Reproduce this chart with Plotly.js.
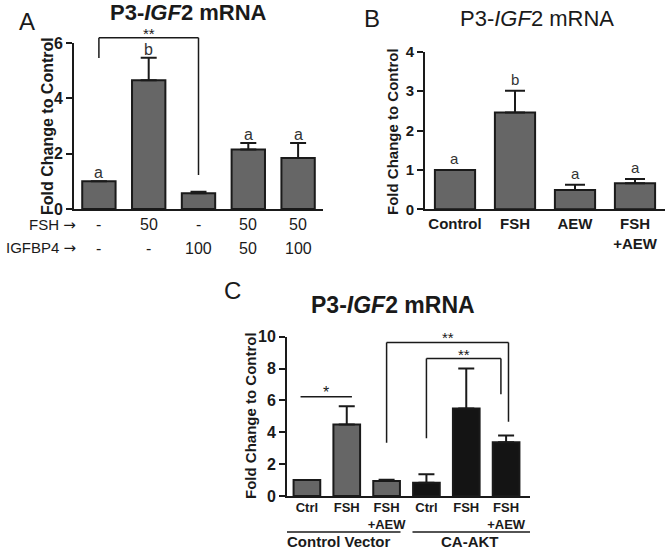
<!DOCTYPE html>
<html>
<head>
    <title>P3-IGF2 mRNA</title>
    <script src="https://cdn.plot.ly/plotly-3.0.1.min.js"></script>
    <style>
        body { margin: 0; background-color: white; }
        #chart { width: 667px; height: 552px; }
    </style>
</head>
<body>
    <div id="chart"></div>
    <script>
        // Panel A: FSH / IGFBP4 treatments
        const aFsh = ['-', '50', '-', '50', '50'];
        const aIgfbp4 = ['-', '-', '100', '50', '100'];
        const aMean = [1.0, 4.65, 0.57, 2.15, 1.84];
        const aErr = [0, 0.82, 0.05, 0.24, 0.55];
        const aLetters = ['a', 'b', '', 'a', 'a'];
        // bracket: [xLeft, xRight, yLeftEnd, yTop, yRightEnd, label]
        const aBracket = [0, 2, 5.46, 6.19, 1.23, '**'];

        // Panel B: AEW inhibitor
        const bCats = ['Control', 'FSH', 'AEW', 'FSH<br>+AEW'];
        const bMean = [1.0, 2.46, 0.49, 0.66];
        const bErr = [0, 0.55, 0.13, 0.11];
        const bLetters = ['a', 'b', 'a', 'a'];

        // Panel C: control vector vs CA-AKT
        const cCats = ['Ctrl', 'FSH', 'FSH<br>+AEW', 'Ctrl', 'FSH', 'FSH<br>+AEW'];
        const cMean = [1.0, 4.49, 0.94, 0.83, 5.5, 3.37];
        const cErr = [0, 1.15, 0.08, 0.53, 2.5, 0.43];
        const cColors = ['#666666', '#666666', '#666666', '#141414', '#141414', '#141414'];
        const cStar = [-0.16, 1.13, 6.23, '*'];
        const cBrackets = [
            [2, 5.06, 3.34, 9.64, 4.66, '**'],
            [3, 4.87, 3.62, 8.63, 6.39, '**']
        ];
        const cGroups = ['Control Vector', 'CA-AKT'];
        const cGroupSpan = [[-0.5, 2.35], [2.65, 5.6]];
        const cGroupLabelX = [0.8, 4.1];

        const W = 667, H = 552;
        const FONT = 'Liberation Sans, Arial, sans-serif';
        const INK = '#1a1a1a';
        const ARROW = ' <span style="font-family:DejaVu Sans">\u2192</span>';
        const xd = (a, b) => [a / W, b / W];
        const yd = (top, bottom) => [1 - bottom / H, 1 - top / H];
        const idx = arr => arr.map((_, i) => i);

        function barTrace(mean, err, colors, xa, ya, capw) {
            return {
                type: 'bar',
                x: idx(mean),
                y: mean,
                xaxis: xa,
                yaxis: ya,
                width: 0.67,
                marker: {color: colors, line: {color: INK, width: 2}},
                error_y: {
                    type: 'data', symmetric: false, array: err,
                    arrayminus: mean.map(() => 0),
                    color: INK, thickness: 2, width: capw
                },
                hoverinfo: 'skip',
                showlegend: false
            };
        }

        const traces = [
            barTrace(aMean, aErr, '#666666', 'x', 'y', 8),
            // empty trace: makes the hidden, taller axis y4 so the bracket can rise above 6
            {type: 'scatter', x: [], y: [], xaxis: 'x', yaxis: 'y4', showlegend: false, hoverinfo: 'skip'},
            barTrace(bMean, bErr, '#666666', 'x2', 'y2', 10),
            barTrace(cMean, cErr, cColors, 'x3', 'y3', 8)
        ];

        const annotations = [];
        const shapes = [];

        function txt(text, x, y, xref, yref, size, opts) {
            annotations.push(Object.assign({
                text: text, x: x, y: y, xref: xref, yref: yref, showarrow: false,
                xanchor: 'center', yanchor: 'middle',
                font: {family: FONT, size: size, color: INK}
            }, opts || {}));
        }

        function line(xref, yref, x0, y0, x1, y1) {
            shapes.push({type: 'line', xref: xref, yref: yref, x0: x0, y0: y0, x1: x1, y1: y1,
                line: {color: INK, width: 1.5}});
        }

        function bracket(br, xref, yref, size, shift) {
            line(xref, yref, br[0], br[2], br[0], br[3]);
            line(xref, yref, br[0], br[3], br[1], br[3]);
            line(xref, yref, br[1], br[3], br[1], br[4]);
            txt(br[5], (br[0] + br[1]) / 2, br[3], xref, yref, size, {yanchor: 'bottom', yshift: shift});
        }

        // panel letters, titles, y axis titles
        txt('A', 27 / W, 1 - 22 / H, 'paper', 'paper', 24);
        txt('B', 372 / W, 1 - 18 / H, 'paper', 'paper', 24);
        txt('C', 232 / W, 1 - 290 / H, 'paper', 'paper', 24);
        txt('<b>P3-<i>IGF</i>2 mRNA</b>', 188 / W, 1 - 13 / H, 'paper', 'paper', 22);
        txt('P3-<i>IGF</i>2 mRNA', 537 / W, 1 - 18 / H, 'paper', 'paper', 22);
        txt('<b>P3-<i>IGF</i>2 mRNA</b>', 393 / W, 1 - 305 / H, 'paper', 'paper', 23);
        txt('<b>Fold Change to Control</b>', 47 / W, 1 - 126 / H, 'paper', 'paper', 16, {textangle: -90});
        txt('<b>Fold Change to Control</b>', 393 / W, 1 - 132 / H, 'paper', 'paper', 15, {textangle: -90});
        txt('<b>Fold Change to Control</b>', 250 / W, 1 - 415 / H, 'paper', 'paper', 15, {textangle: -90});

        // panel A: letters, bracket, treatment rows
        aLetters.forEach((l, i) => {
            if (l) txt(l, i, aMean[i] + aErr[i], 'x', 'y', 16, {yanchor: 'bottom', yshift: -2, font: {family: FONT, size: 16, color: '#333'}});
        });
        bracket(aBracket, 'x', 'y4', 15, -6);
        txt('FSH' + ARROW, 78 / W, 1 - 225 / H, 'paper', 'paper', 15, {xanchor: 'right'});
        txt('IGFBP4' + ARROW, 78 / W, 1 - 248 / H, 'paper', 'paper', 15, {xanchor: 'right'});
        aFsh.forEach((t, i) => txt(t, i, 1 - 225 / H, 'x', 'paper', 16));
        aIgfbp4.forEach((t, i) => txt(t, i, 1 - 248 / H, 'x', 'paper', 16));

        // panel B letters
        bLetters.forEach((l, i) => {
            txt(l, i, bMean[i] + bErr[i], 'x2', 'y2', 15, {yanchor: 'bottom', yshift: 1, font: {family: FONT, size: 15, color: '#333'}});
        });

        // panel C brackets and groups
        line('x3', 'y3', cStar[0], cStar[2], cStar[1], cStar[2]);
        txt(cStar[3], (cStar[0] + cStar[1]) / 2, cStar[2], 'x3', 'y3', 16, {yanchor: 'bottom', yshift: -6});
        cBrackets.forEach(br => bracket(br, 'x3', 'y3', 15, -6));
        cGroups.forEach((g, i) => {
            shapes.push({type: 'line', xref: 'x3', yref: 'paper', x0: cGroupSpan[i][0], x1: cGroupSpan[i][1],
                y0: 1 - 532 / H, y1: 1 - 532 / H, line: {color: INK, width: 1.5}});
            txt('<b>' + g + '</b>', cGroupLabelX[i], 0, 'x3', 'paper', 15, {yanchor: 'bottom'});
        });

        const baseY = {
            showgrid: false, zeroline: false, showline: true, ticks: 'outside', ticklen: 6, tickwidth: 2, tickcolor: INK,
            linecolor: INK, linewidth: 2, fixedrange: true
        };
        const baseX = {
            showgrid: false, zeroline: false, showline: true, linecolor: INK, linewidth: 2,
            ticks: '', fixedrange: true
        };

        const layout = {
            width: W, height: H,
            margin: {l: 0, r: 0, t: 0, b: 0},
            paper_bgcolor: 'white', plot_bgcolor: 'rgba(0,0,0,0)',
            font: {family: FONT, color: INK},
            showlegend: false,
            xaxis: Object.assign({}, baseX, {domain: xd(74, 323), range: [-0.5, 4.5], showticklabels: false, anchor: 'y'}),
            yaxis: Object.assign({}, baseY, {domain: yd(43, 209), range: [0, 6], dtick: 2,
                tickfont: {family: FONT, size: 16, weight: 'bold'}, anchor: 'x'}),
            yaxis4: {domain: yd(20.8, 209), range: [0, 6.8], visible: false, fixedrange: true, anchor: 'x'},
            xaxis2: Object.assign({}, baseX, {domain: xd(425, 665), range: [-0.5, 3.5], tickvals: idx(bCats), ticktext: bCats,
                tickfont: {family: FONT, size: 15, weight: 'bold'}, anchor: 'y2'}),
            yaxis2: Object.assign({}, baseY, {domain: yd(51.7, 209.3), range: [0, 4], dtick: 1,
                tickfont: {family: FONT, size: 15, weight: 'bold'}, anchor: 'x2'}),
            xaxis3: Object.assign({}, baseX, {domain: xd(287, 530), range: [-0.5, 5.6], tickvals: idx(cCats), ticktext: cCats,
                tickfont: {family: FONT, size: 13, weight: 'bold'}, ticklabelstandoff: -2, anchor: 'y3'}),
            yaxis3: Object.assign({}, baseY, {domain: yd(336.7, 496), range: [0, 10], dtick: 2,
                tickfont: {family: FONT, size: 16, weight: 'bold'}, anchor: 'x3'}),
            annotations: annotations,
            shapes: shapes
        };

        Plotly.newPlot('chart', traces, layout, {displayModeBar: false, staticPlot: true});
    </script>
</body>
</html>
